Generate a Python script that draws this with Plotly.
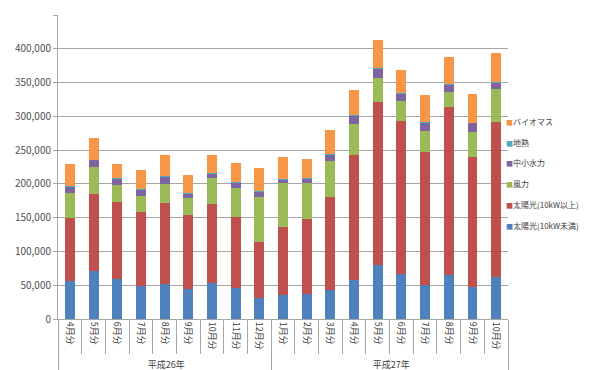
import plotly.graph_objects as go

ZWSP = '\u200b'
years = ['平成26年'] * 9 + ['平成27年'] * 10
months = ['4月分', '5月分', '6月分', '7月分', '8月分', '9月分', '10月分', '11月分', '12月分',
          '1月分', '2月分', '3月分', '4月分', '5月分', '6月分', '7月分', '8月分', '9月分', '10月分']

solar_small = [56500, 70500, 59900, 49300, 51200, 44900, 53100, 45400, 30900,
               35700, 36700, 43500, 58300, 80000, 67000, 50100, 64600, 46800, 62700]
solar_large = [92300, 115000, 113500, 108700, 120800, 109100, 116400, 106300, 83100,
               100000, 111100, 137500, 184100, 240500, 226000, 196700, 249700, 193200, 229400]
wind = [37200, 39100, 24600, 24000, 28400, 24700, 39200, 42500, 66200,
        65200, 53100, 52500, 45800, 36700, 29500, 30800, 21200, 37200, 48200]
hydro = [10600, 11100, 9700, 10200, 10600, 7300, 7300, 7700, 9100,
         6300, 6800, 10000, 13500, 13900, 11500, 14000, 12000, 13000, 9700]
geothermal = [300, 300, 300, 300, 300, 300, 300, 300, 300,
              300, 300, 300, 300, 300, 300, 300, 300, 300, 300]
biomass = [32500, 31400, 21400, 27700, 31200, 26700, 27100, 28700, 33500,
           32500, 29200, 35600, 36800, 41200, 34400, 39200, 40700, 42500, 43000]

series_names = ['太陽光(10kW未満)', '太陽光(10kW以上)', '風力', '中小水力', '地熱', 'バイオマス']
series_values = [solar_small, solar_large, wind, hydro, geothermal, biomass]
series_colors = ['#4F81BD', '#C0504D', '#9BBB59', '#8064A2', '#4BACC6', '#F79646']

# make inner labels unique per year so plotly keeps the chronological order
seen = set()
inner = []
for y, m in zip(years, months):
    lab = m
    while lab in seen:
        lab += ZWSP
    seen.add(lab)
    inner.append(lab)

fig = go.Figure()
for name, vals, color in zip(series_names, series_values, series_colors):
    fig.add_trace(go.Bar(x=[years, inner], y=vals, name=name,
                         marker=dict(color=color, line=dict(width=0))))

# compact Excel-style legend (top series first), placed right of the plot
font = 'Noto Sans CJK JP'
plot_top, plot_bottom = 7, 318
first_y, step = 116, 21.2
k = 0
for name, color in zip(reversed(series_names), reversed(series_colors)):
    py = first_y + k * step
    fig.add_annotation(
        xref='paper', yref='paper', x=0.99, y=(plot_bottom - py) / (plot_bottom - plot_top),
        xanchor='left', yanchor='middle', showarrow=False,
        text=f'<span style="font-size:7px;color:{color}">■</span>{name}',
        font=dict(family=font, size=8, color='#404040'))
    k += 1

fig.update_layout(
    barmode='stack',
    bargap=0.58,
    width=590, height=370,
    margin=dict(l=41, r=90, t=plot_top, b=370 - plot_bottom),
    paper_bgcolor='white', plot_bgcolor='white',
    font=dict(family=font, size=10, color='#404040'),
    showlegend=False,
)
fig.update_yaxes(range=[0, 450000], dtick=50000, tickformat=',d',
                 showgrid=True, gridcolor='#A6A6A6', gridwidth=1,
                 showline=True, linecolor='#A6A6A6', ticks='outside',
                 ticklen=4, tickcolor='#A6A6A6', zeroline=False,
                 tickfont=dict(size=10, color='#505050'))
fig.update_xaxes(type='multicategory', tickangle=90, showline=True,
                 linecolor='#A6A6A6', ticks='outside', ticklen=34,
                 tickcolor='#A6A6A6', showdividers=True,
                 dividercolor='#A6A6A6', dividerwidth=1,
                 tickfont=dict(size=9, color='#404040'))

fig.write_html('out.html')
